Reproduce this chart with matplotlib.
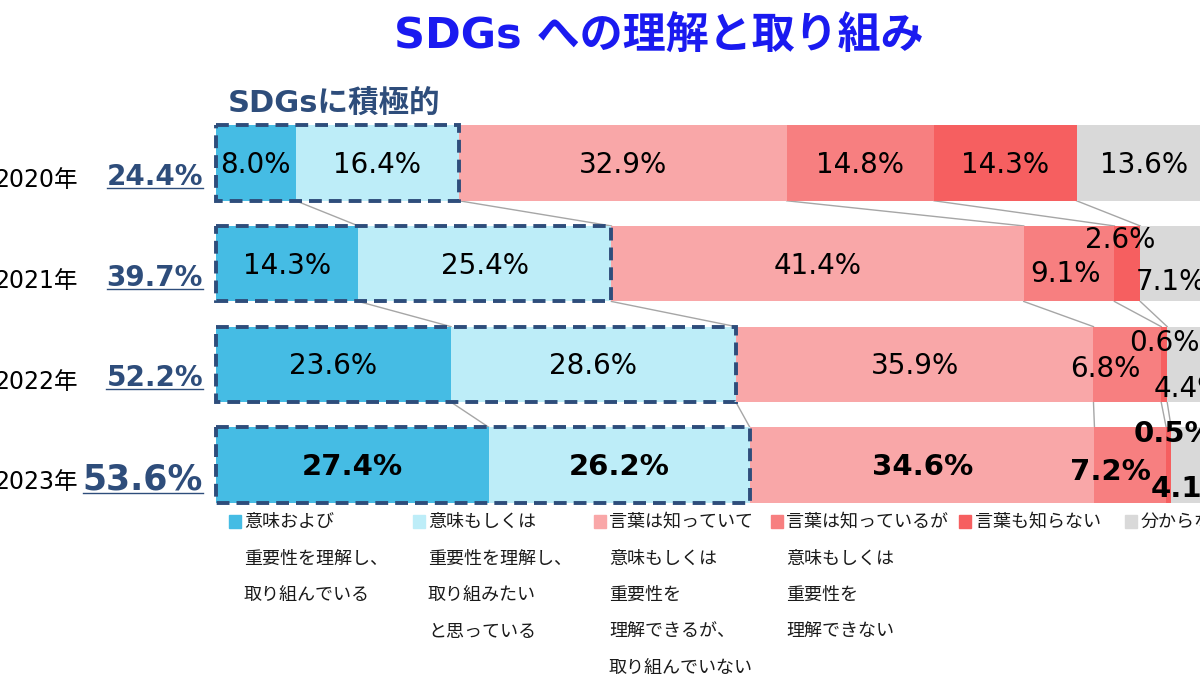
import numpy as np
import matplotlib
matplotlib.use("Agg")
import matplotlib.pyplot as plt
from matplotlib.patches import Rectangle
from matplotlib.lines import Line2D

plt.rcParams['font.family'] = ['Noto Sans CJK JP', 'DejaVu Sans']
num_font = ['DejaVu Sans', 'Noto Sans CJK JP']

# data
years = ['2020年', '2021年', '2022年', '2023年']
totals = [24.4, 39.7, 52.2, 53.6]
seg_names = ['意味および\n重要性を理解し、\n取り組んでいる',
             '意味もしくは\n重要性を理解し、\n取り組みたい\nと思っている',
             '言葉は知っていて\n意味もしくは\n重要性を\n理解できるが、\n取り組んでいない',
             '言葉は知っているが\n意味もしくは\n重要性を\n理解できない',
             '言葉も知らない',
             '分からない']
values = np.array([
    [8.0, 16.4, 32.9, 14.8, 14.3, 13.6],
    [14.3, 25.4, 41.4, 9.1, 2.6, 7.1],
    [23.6, 28.6, 35.9, 6.8, 0.6, 4.4],
    [27.4, 26.2, 34.6, 7.2, 0.5, 4.1],
])
colors = ['#45BCE4', '#BDEDF8', '#F9A7A8', '#F77F80', '#F65F60', '#D9D9D9']
navy = '#2E4D7B'

# label nudges for the thin segments: (year, segment) -> (dx %, dy bar units)
nudges = {(1, 3): (-0.4, 0.08), (1, 4): (-0.7, -0.26), (1, 5): (-0.5, 0.16),
          (2, 3): (-2.2, 0.03), (2, 4): (0.0, -0.23), (2, 5): (0.0, 0.22),
          (3, 3): (-2.0, 0.05), (3, 4): (0.5, -0.33), (3, 5): (0.0, 0.22)}

W, H = 1200, 675
fig = plt.figure(figsize=(12, 6.75), dpi=100)
ax = fig.add_axes([0, 0, 1, 1])
px = 9.96            # pixels per percent
x0, yc0, ystep = 216, 163, 100.7
ax.set_xlim(-x0 / px, (W - x0) / px)
ax.set_ylim((H - yc0) / ystep, -yc0 / ystep)
ax.axis('off')

bh = 0.75
ypos = np.arange(len(years))
cum = np.cumsum(values, axis=1) - values

for j in range(values.shape[1]):
    ax.barh(ypos, values[:, j], left=cum[:, j], height=bh, color=colors[j],
            edgecolor='none', zorder=2)

# connector lines between bars
ends = np.cumsum(values, axis=1)
for i in range(len(years) - 1):
    for j in range(values.shape[1] - 1):
        ax.plot([ends[i, j], ends[i + 1, j]], [i + bh / 2, i + 1 - bh / 2],
                color='#A6A6A6', lw=1, zorder=1)

# dashed boxes around the "active" part
for i, t in enumerate(totals):
    ax.add_patch(Rectangle((0, i - bh / 2), t, bh, fill=False, edgecolor=navy,
                           lw=2.8, linestyle=(0, (3.3, 1.8)), zorder=4))

# segment labels
for i in range(len(years)):
    bold = i == len(years) - 1
    for j in range(values.shape[1]):
        dx, dy = nudges.get((i, j), (0, 0))
        ax.text(cum[i, j] + values[i, j] / 2 + dx, i + dy + 0.02,
                f'{values[i, j]:.1f}%', ha='center', va='center',
                fontsize=21 if bold else 20, family=num_font,
                fontweight='bold' if bold else 'normal', color='black', zorder=5)

# year labels and totals
tot_texts = []
for i, (yr, t) in enumerate(zip(years, totals)):
    ax.text((78 - x0) / px, i + 0.17, yr, ha='right', va='center', fontsize=17,
            family=num_font, color='black')
    big = i == len(years) - 1
    tt = ax.text((203 - x0) / px, i + 0.14, f'{t:.1f}%',
                 ha='right', va='center', fontsize=25 if big else 20,
                 family=num_font, fontweight='bold', color=navy)
    tot_texts.append(tt)

fig.text(659 / W, 1 - 37 / H, 'SDGs への理解と取り組み', ha='center', va='center',
         fontsize=31, fontweight='bold', family=num_font, color='#1A1AF0')
fig.text(228 / W, 1 - 104 / H, 'SDGsに積極的', ha='left', va='center',
         fontsize=22, fontweight='bold', family=num_font, color=navy)

# legend
sq_x = [229, 413, 594, 771, 959, 1125]
tx_x = [244, 428, 609, 786, 975, 1141]
for k, name in enumerate(seg_names):
    fig.patches.append(Rectangle((sq_x[k] / W, 1 - 528 / H), 12 / W, 13 / H,
                                 transform=fig.transFigure, color=colors[k]))
    for m, line in enumerate(name.split('\n')):
        fig.text(tx_x[k] / W, 1 - (522 + 36.5 * m) / H, line, ha='left',
                 va='center', fontsize=13, color='#1a1a1a')

# underline the totals
fig.canvas.draw()
r = fig.canvas.get_renderer()
for tt in tot_texts:
    bb = tt.get_window_extent(r)
    yline = bb.y0 + 3
    fig.lines.append(Line2D([bb.x0 / W, bb.x1 / W], [yline / H, yline / H],
                            transform=fig.transFigure, color=navy, lw=1))

fig.savefig('out.png', dpi=100)
